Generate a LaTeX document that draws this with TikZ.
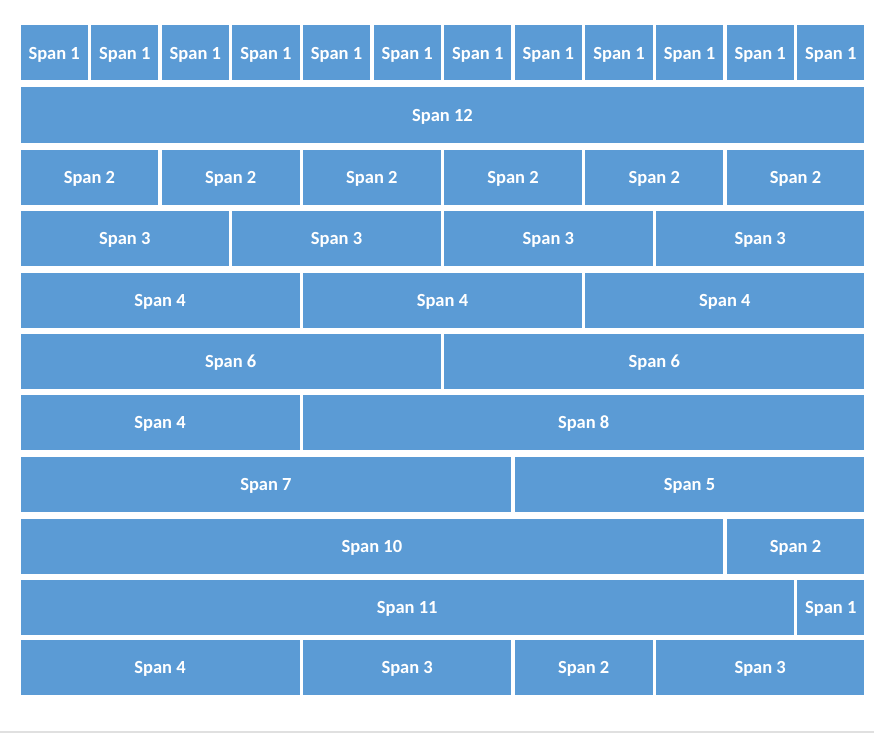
\documentclass[tikz,border=0pt]{standalone}
\usepackage{fontspec}
\setmainfont{Carlito}
\usepackage{xcolor}
\usepackage{tikz}

\definecolor{spanblue}{HTML}{5B9BD5}
\tikzset{
  cell/.style={fill=spanblue, text=white, inner sep=0pt, minimum height=55pt,
    text depth=0pt, font=\bfseries\fontsize{18.5}{20}\selectfont},
  w1/.style={cell, minimum width=67.3pt},
  w2/.style={cell, minimum width=137.9pt},
  w3/.style={cell, minimum width=208.5pt},
  w4/.style={cell, minimum width=279.1pt},
  w5/.style={cell, minimum width=349.7pt},
  w6/.style={cell, minimum width=420.3pt},
  w7/.style={cell, minimum width=490.9pt},
  w8/.style={cell, minimum width=561.5pt},
  w10/.style={cell, minimum width=702.7pt},
  w11/.style={cell, minimum width=773.3pt},
  w12/.style={cell, minimum width=843.9pt}
}

\begin{document}
\begin{tikzpicture}[x=1pt, y=-1pt]
		\useasboundingbox[fill=white] (0,0) rectangle (874,733);
		% row 1: twelve single spans
		\node[w1] (r1c1) at (54.15,53) {Span 1};
		\node[w1] (r1c2) at (124.75,53) {Span 1};
		\node[w1] (r1c3) at (195.35,53) {Span 1};
		\node[w1] (r1c4) at (265.95,53) {Span 1};
		\node[w1] (r1c5) at (336.55,53) {Span 1};
		\node[w1] (r1c6) at (407.15,53) {Span 1};
		\node[w1] (r1c7) at (477.75,53) {Span 1};
		\node[w1] (r1c8) at (548.35,53) {Span 1};
		\node[w1] (r1c9) at (618.95,53) {Span 1};
		\node[w1] (r1c10) at (689.55,53) {Span 1};
		\node[w1] (r1c11) at (760.15,53) {Span 1};
		\node[w1] (r1c12) at (830.75,53) {Span 1};
		% row 2
		\node[w12] (r2c1) at (442.45,115) {Span 12};
		% row 3
		\node[w2] (r3c1) at (89.45,177) {Span 2};
		\node[w2] (r3c3) at (230.65,177) {Span 2};
		\node[w2] (r3c5) at (371.85,177) {Span 2};
		\node[w2] (r3c7) at (513.05,177) {Span 2};
		\node[w2] (r3c9) at (654.25,177) {Span 2};
		\node[w2] (r3c11) at (795.45,177) {Span 2};
		% row 4
		\node[w3] (r4c1) at (124.75,238.5) {Span 3};
		\node[w3] (r4c4) at (336.55,238.5) {Span 3};
		\node[w3] (r4c7) at (548.35,238.5) {Span 3};
		\node[w3] (r4c10) at (760.15,238.5) {Span 3};
		% row 5
		\node[w4] (r5c1) at (160.05,300) {Span 4};
		\node[w4] (r5c5) at (442.45,300) {Span 4};
		\node[w4] (r5c9) at (724.85,300) {Span 4};
		% row 6
		\node[w6] (r6c1) at (230.65,361) {Span 6};
		\node[w6] (r6c7) at (654.25,361) {Span 6};
		% row 7
		\node[w4] (r7c1) at (160.05,422.5) {Span 4};
		\node[w8] (r7c5) at (583.65,422.5) {Span 8};
		% row 8
		\node[w7] (r8c1) at (265.95,484) {Span 7};
		\node[w5] (r8c8) at (689.55,484) {Span 5};
		% row 9
		\node[w10] (r9c1) at (371.85,546) {Span 10};
		\node[w2] (r9c11) at (795.45,546) {Span 2};
		% row 10
		\node[w11] (r10c1) at (407.15,607.5) {Span 11};
		\node[w1] (r10c12) at (830.75,607.5) {Span 1};
		% row 11
		\node[w4] (r11c1) at (160.05,667) {Span 4};
		\node[w3] (r11c5) at (407.15,667) {Span 3};
		\node[w2] (r11c8) at (583.65,667) {Span 2};
		\node[w3] (r11c10) at (760.15,667) {Span 3};
		% bottom rule
		\draw[black!12, line width=1.5pt] (0,732) -- (874,732);
\end{tikzpicture}
\end{document}
